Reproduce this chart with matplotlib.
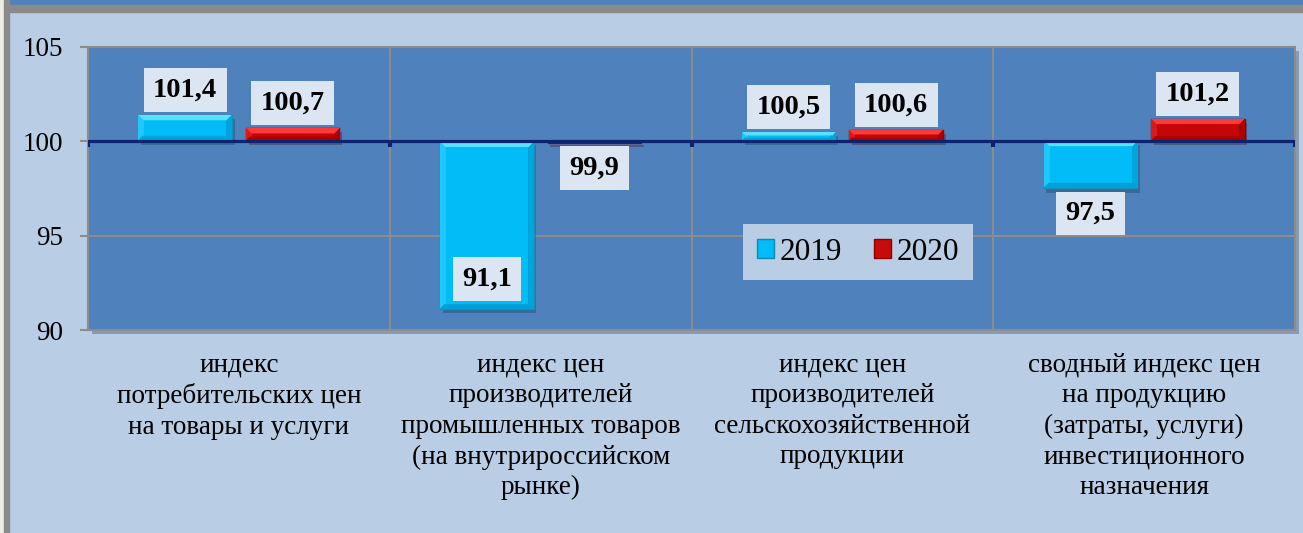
import numpy as np
import matplotlib
matplotlib.use('Agg')
import matplotlib.pyplot as plt
import matplotlib.patheffects as pe
from matplotlib.patches import Rectangle, Patch

categories = ['индекс\nпотребительских цен\nна товары и услуги',
              'индекс цен\nпроизводителей\nпромышленных товаров\n(на внутрироссийском\nрынке)',
              'индекс цен\nпроизводителей\nсельскохозяйственной\nпродукции',
              'сводный индекс цен\nна продукцию\n(затраты, услуги)\nинвестиционного\nназначения']
v2019 = [101.4, 91.1, 100.5, 97.5]
v2020 = [100.7, 99.9, 100.6, 101.2]
labels2019 = ['101,4', '91,1', '100,5', '97,5']
labels2020 = ['100,7', '99,9', '100,6', '101,2']
years = ['2019', '2020']

plt.rcParams['font.family'] = 'serif'
plt.rcParams['font.serif'] = ['Liberation Serif', 'DejaVu Serif']

bg = '#B9CDE5'
plot_bg = '#4F81BD'
c19 = '#02BCF7'
c20 = '#C80A0A'
# bevel tones: base, top, bottom, left, right
tones19 = [(2, 188, 247), (90, 226, 255), (0, 162, 215), (30, 200, 252), (0, 165, 220)]
tones20 = [(196, 6, 6), (255, 58, 58), (168, 0, 0), (220, 25, 25), (172, 0, 0)]

fig = plt.figure(figsize=(13.03, 5.33), dpi=100, facecolor=bg)
W, H = 1303, 533

# window frame decoration
fig.patches.append(Rectangle((9 / W, 1 - 5 / H), 1, 5 / H, transform=fig.transFigure, color=plot_bg, zorder=0))
fig.patches.append(Rectangle((9 / W, 1 - 7.5 / H), 1, 2.5 / H, transform=fig.transFigure, color='#8A8A8A', zorder=0))
fig.patches.append(Rectangle((9 / W, 1 - 12 / H), 1, 2.5 / H, transform=fig.transFigure, color='#8A8A8A', zorder=0))
fig.patches.append(Rectangle((0, 0), 4 / W, 1, transform=fig.transFigure, color='#EFECE0', zorder=0))
fig.patches.append(Rectangle((4 / W, 0), 5 / W, 1, transform=fig.transFigure, color='#8A8A8A', zorder=0))

ax = fig.add_axes([88 / W, 1 - 330 / H, (1295 - 88) / W, (330 - 47) / H], facecolor=plot_bg)
ax.patch.set_path_effects([pe.SimplePatchShadow(offset=(3, -3), shadow_rgbFace='#7F8FA5', alpha=0.8), pe.Normal()])
ax.set_xlim(-0.5, 3.5)
ax.set_ylim(90, 105)

x = np.arange(len(categories))
bw = 0.31
off = 0.178
shadow = [pe.SimplePatchShadow(offset=(2, -3), alpha=0.3), pe.Normal()]

b1 = ax.bar(x - off, np.array(v2019) - 100, bw, bottom=100, color=c19,
            edgecolor='#1A8CB8', linewidth=1, zorder=3)
b2 = ax.bar(x + off, np.array(v2020) - 100, bw, bottom=100, color=c20,
            edgecolor='#8E0000', linewidth=1, zorder=3)

px_x = (1295 - 88) / 4.0   # pixels per category
px_y = (330 - 47) / 15.0   # pixels per unit


def bevel(bar, tones):
    x0, y0 = bar.get_x(), bar.get_y()
    w, h = bar.get_width(), bar.get_height()
    nx = max(int(round(w * px_x)), 2)
    ny = max(int(round(abs(h) * px_y)), 2)
    base, top, bot, left, right = [np.array(t, float) / 255 for t in tones]
    img = np.tile(base, (ny, nx, 1))
    bt = max(1, min(6, ny // 2))
    bb = min(5, ny // 3)
    bs = min(6, nx // 2)
    for k in range(bs):
        img[:, k] = left
        img[:, nx - 1 - k] = right
    for k in range(bt):
        img[k, k:nx - k] = top
    for k in range(bb):
        img[ny - 1 - k, k:nx - k] = bot
    ylo, yhi = min(y0, y0 + h), max(y0, y0 + h)
    im = ax.imshow(img, extent=(x0, x0 + w, ylo, yhi), aspect='auto',
                   interpolation='bilinear', zorder=3.1, origin='upper')
    im.set_clip_path(bar)


for b in b1:
    b.set_path_effects(shadow)
    bevel(b, tones19)
for b in b2:
    b.set_path_effects(shadow)
    bevel(b, tones20)

# baseline at 100
ax.axhline(100, color='#0C2470', lw=2.3, zorder=4)
ax.vlines(np.arange(-0.5, 4, 1), 99.68, 100, color='#0C2470', lw=3, zorder=4)

box = dict(boxstyle='square,pad=0.33', fc='#DCE6F2', ec='none')


def put(xc, val, txt):
    if val >= 100:
        dy, va = 9, 'bottom'
    elif val < 93:
        dy, va = 13, 'bottom'
    else:
        dy, va = -9, 'top'
    ax.annotate(txt, (xc, val), xytext=(0, dy), textcoords='offset points',
                ha='center', va=va, fontsize=20.5, fontweight='bold',
                bbox=box, zorder=6)


for i in range(len(categories)):
    put(x[i] - off, v2019[i], labels2019[i])
    put(x[i] + off, v2020[i], labels2020[i])

ax.set_xlim(-0.5, 3.5)
ax.set_ylim(90, 105)
ax.set_yticks([90, 95, 100, 105])
ax.set_xticks(x)
ax.set_xticklabels(categories, fontsize=19.5, linespacing=1.3)
ax.tick_params(axis='x', length=0, pad=16)
ax.tick_params(axis='y', length=6, width=1.5, color='#8C8C8C', pad=12, labelsize=19.5)

ax.set_xticks(np.arange(0.5, 3, 1), minor=True)
ax.tick_params(axis='x', which='minor', length=0)
ax.grid(True, axis='y', which='major', color='#8C8C8C', lw=1.5, zorder=1)
ax.grid(True, axis='x', which='minor', color='#8C8C8C', lw=1.5, zorder=1)
ax.grid(False, axis='x', which='major')
ax.set_axisbelow(True)
for s in ax.spines.values():
    s.set_color('#8C8C8C')
    s.set_linewidth(1.5)

handles = [Patch(fc=c19, ec='#1487B5'), Patch(fc=c20, ec='#8E0000')]
leg = fig.legend(handles, years, loc='center', bbox_to_anchor=(858 / W, 1 - 252 / H),
                 ncol=2, frameon=True, fancybox=False, prop={'size': 22.5},
                 handlelength=0.55, handleheight=0.55, handletextpad=0.2, columnspacing=1.0,
                 borderpad=0.42)
leg.get_frame().set_facecolor(bg)
leg.get_frame().set_edgecolor('none')
leg.get_frame().set_alpha(1)

fig.savefig('out.png', dpi=100, facecolor=bg)
